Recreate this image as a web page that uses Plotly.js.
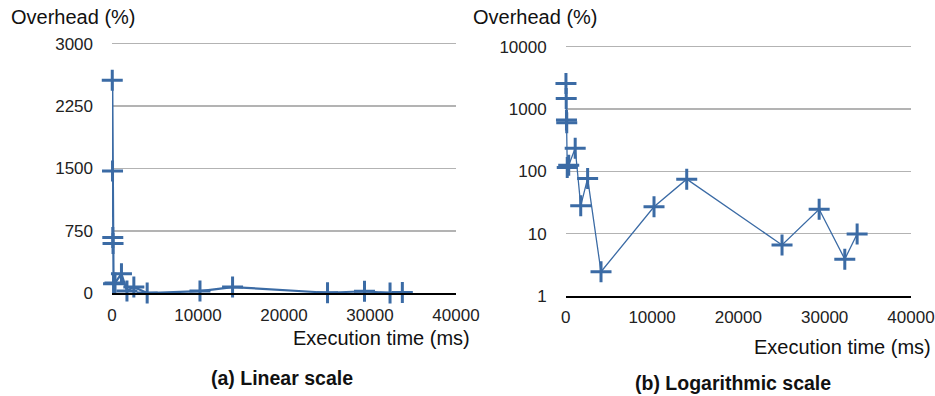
<!DOCTYPE html>
<html>
<head>
<meta charset="utf-8">
<script src="https://cdn.plot.ly/plotly-3.0.1.min.js"></script>
<style>html,body{margin:0;padding:0;background:#fff;}#chart{width:935px;height:396px;}</style>
</head>
<body>
<div id="chart"></div>
<script>
// Data
const execTimeMs = [30, 60, 90, 120, 180, 350, 1100, 1740, 2540, 4090, 10230, 14020, 25060, 29360, 32330, 33760];
const overheadPct = [2560, 1470, 670, 600, 115, 125, 235, 28, 77, 2.45, 27, 75, 6.6, 24.6, 3.9, 9.9];
const linearTicks = [0, 750, 1500, 2250, 3000];
const logTicks = [1, 10, 100, 1000, 10000];
const logTickText = ['1', '10', '100', '1000', '10000'];
const xTicks = [0, 10000, 20000, 30000, 40000];
const yTitle = 'Overhead (%)';
const xTitle = 'Execution time (ms)';
const captionA = '(a) Linear scale';
const captionB = '(b) Logarithmic scale';

const W = 935, H = 396;
const px = v => v / W;
const py = v => 1 - v / H;
const blue = '#3b6ba5';
const font = 'Liberation Sans, Arial, sans-serif';

const traces = [
  {x: execTimeMs, y: overheadPct, xaxis: 'x', yaxis: 'y', mode: 'lines+markers',
   line: {color: blue, width: 2.2},
   marker: {symbol: 'cross-thin', size: 15, color: blue, line: {color: blue, width: 3}},
   cliponaxis: false},
  {x: execTimeMs, y: overheadPct, xaxis: 'x2', yaxis: 'y2', mode: 'lines+markers',
   line: {color: blue, width: 1.3},
   marker: {symbol: 'cross-thin', size: 15, color: blue, line: {color: blue, width: 3}},
   cliponaxis: false}
];

const xBase = {
  range: [0, 40000], tickvals: xTicks, ticktext: xTicks.map(String),
  showgrid: false, zeroline: false, showline: true, linecolor: '#000', linewidth: 2,
  ticks: '', ticklabelstandoff: 5,
  tickfont: {family: font, size: 17, color: '#222'}
};
const yBase = {
  showgrid: true, gridcolor: '#b3b3b3', gridwidth: 1.5, zeroline: false, showline: false,
  ticks: '', ticklabelstandoff: 18,
  tickfont: {family: font, size: 17, color: '#222'}
};

const layout = {
  width: W, height: H, margin: {l: 0, r: 0, t: 0, b: 0},
  paper_bgcolor: '#fff', plot_bgcolor: '#fff', showlegend: false,
  xaxis: Object.assign({}, xBase, {domain: [px(112), px(456)], anchor: 'y'}),
  yaxis: Object.assign({}, yBase, {domain: [py(293.3), py(35.4)], anchor: 'x',
    range: [0, 3100], tickvals: linearTicks, ticktext: linearTicks.map(String)}),
  xaxis2: Object.assign({}, xBase, {domain: [px(565.7), px(911)], anchor: 'y2'}),
  yaxis2: Object.assign({}, yBase, {domain: [py(296), py(43.6)], anchor: 'x2',
    type: 'log', range: [0, 4.05], tickvals: logTicks, ticktext: logTickText}),
  annotations: [
    {text: yTitle, xref: 'paper', yref: 'paper', x: px(9), y: py(17), xanchor: 'left', yanchor: 'middle',
     showarrow: false, font: {family: font, size: 20, color: '#111'}},
    {text: yTitle, xref: 'paper', yref: 'paper', x: px(471), y: py(17), xanchor: 'left', yanchor: 'middle',
     showarrow: false, font: {family: font, size: 20, color: '#111'}},
    {text: xTitle, xref: 'paper', yref: 'paper', x: px(472), y: py(338), xanchor: 'right', yanchor: 'middle',
     showarrow: false, font: {family: font, size: 20, color: '#111'}},
    {text: xTitle, xref: 'paper', yref: 'paper', x: px(933), y: py(347), xanchor: 'right', yanchor: 'middle',
     showarrow: false, font: {family: font, size: 20, color: '#111'}},
    {text: '<b>' + captionA + '</b>', xref: 'paper', yref: 'paper', x: px(282), y: py(378), xanchor: 'center', yanchor: 'middle',
     showarrow: false, font: {family: font, size: 19.5, color: '#111'}},
    {text: '<b>' + captionB + '</b>', xref: 'paper', yref: 'paper', x: px(733), y: py(383), xanchor: 'center', yanchor: 'middle',
     showarrow: false, font: {family: font, size: 19.5, color: '#111'}}
  ]
};

Plotly.newPlot('chart', traces, layout, {displayModeBar: false, staticPlot: true});
</script>
</body>
</html>
